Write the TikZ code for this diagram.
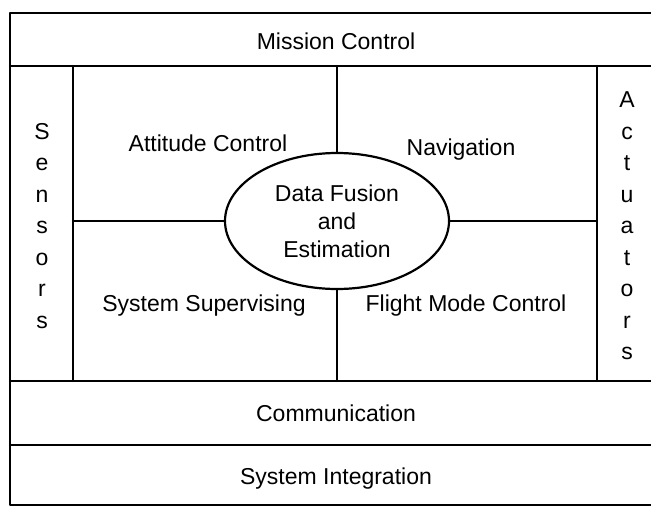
\documentclass[tikz,border=0pt]{standalone}
\usepackage{fontspec}
\setmainfont{Liberation Sans}
\usetikzlibrary{calc, shapes.geometric}

\tikzset{
    frame/.style={draw=black, line width=2.2pt},
    lbl/.style={font=\fontsize{23}{28}\selectfont, inner sep=0pt, align=center},
    column/.style={font=\fontsize{23}{31.5}\selectfont, inner sep=0pt, align=center}
}

\begin{document}
\begin{tikzpicture}[x=1pt, y=-1pt, line cap=round, line join=round]
    \useasboundingbox (0,0) rectangle (651,507);

    % Outer frame
    \coordinate (TL) at (10,13);
    \coordinate (BR) at (653,505);
    \draw[frame] (TL) rectangle (BR);

    % Horizontal bands
    \coordinate (MC) at (10,66);
    \coordinate (CM) at (10,381);
    \coordinate (SI) at (10,445);
    \foreach \band in {MC, CM, SI} {
            \draw[frame] (\band) -- (\band -| BR);
        }

    % Side columns
    \coordinate (SL) at (73,66);
    \coordinate (AR) at (597,66);
    \foreach \col in {SL, AR} {
            \draw[frame] (\col) -- (\col |- CM);
        }

    % Centre ellipse
    \node[ellipse, frame, fill=white, minimum width=224pt, minimum height=136pt, inner sep=0pt,
        font=\fontsize{23}{28}\selectfont, align=center] (DF) at (337,221) {Data Fusion\\and\\Estimation};

    % Dividers
    \draw[frame] (DF.west) -- (DF.west -| SL);
    \draw[frame] (DF.east) -- (DF.east -| AR);
    \draw[frame] (DF.north) -- (DF.north |- MC);
    \draw[frame] (DF.south) -- (DF.south |- CM);

    % Labels
    \node[lbl, anchor=base] (mission) at (336,49) {Mission Control};
    \node[lbl, anchor=base] (attitude) at (208,151) {Attitude Control};
    \node[lbl, anchor=base] (nav) at (461,155) {Navigation};
    \node[lbl, anchor=base] (super) at (204,311) {System Supervising};
    \node[lbl, anchor=base] (flight) at (466,311) {Flight Mode Control};
    \node[lbl, anchor=base] (comm) at (336,421) {Communication};
    \node[lbl, anchor=base] (integ) at (336,484) {System Integration};
    \node[column] (sensors) at (42,226) {S\\e\\n\\s\\o\\r\\s};
    \node[column] (actuators) at (627,226) {A\\c\\t\\u\\a\\t\\o\\r\\s};
\end{tikzpicture}
\end{document}
